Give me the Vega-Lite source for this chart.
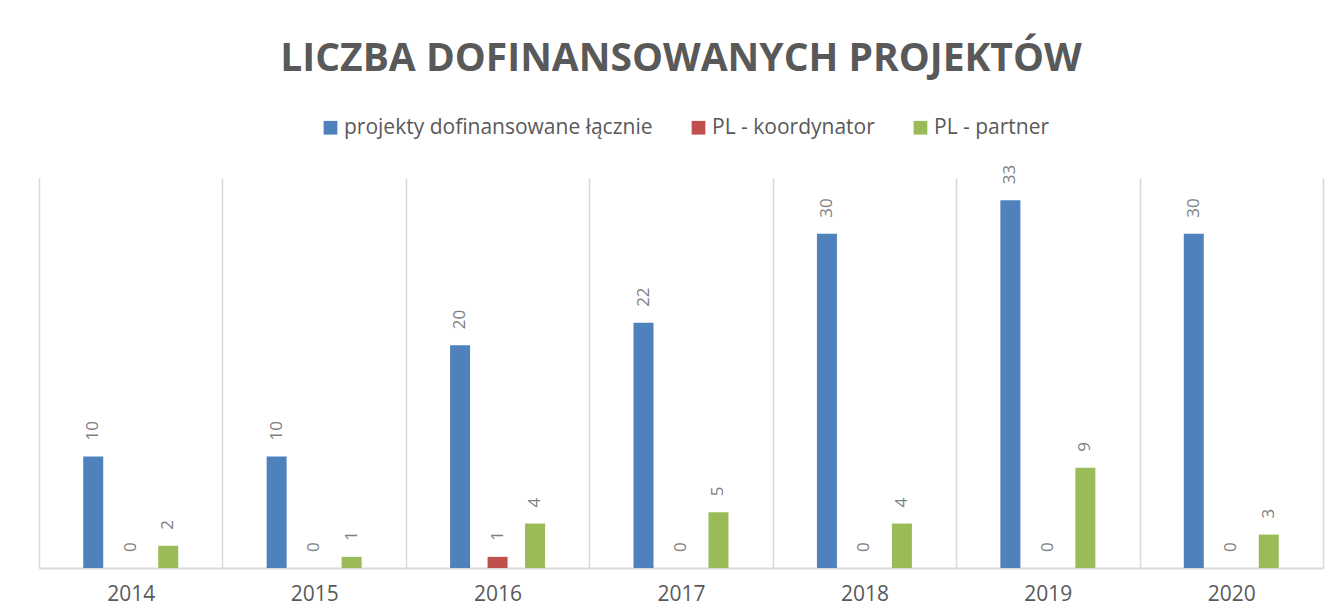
{
  "$schema": "https://vega.github.io/schema/vega-lite/v6.json",
  "autosize": {"type": "none"},
  "width": 1284,
  "height": 390,
  "padding": {"left": 39, "top": 178, "right": 18, "bottom": 47},
  "background": "white",
  "title": {
    "text": "LICZBA DOFINANSOWANYCH PROJEKTÓW",
    "font": "Open Sans",
    "fontSize": 39,
    "fontWeight": "bold",
    "color": "#595959",
    "anchor": "middle",
    "offset": 38
  },
  "data": {
    "values": [
      {"year": "2014", "series": "projekty dofinansowane łącznie", "value": 10},
      {"year": "2014", "series": "PL - koordynator", "value": 0},
      {"year": "2014", "series": "PL - partner", "value": 2},
      {"year": "2015", "series": "projekty dofinansowane łącznie", "value": 10},
      {"year": "2015", "series": "PL - koordynator", "value": 0},
      {"year": "2015", "series": "PL - partner", "value": 1},
      {"year": "2016", "series": "projekty dofinansowane łącznie", "value": 20},
      {"year": "2016", "series": "PL - koordynator", "value": 1},
      {"year": "2016", "series": "PL - partner", "value": 4},
      {"year": "2017", "series": "projekty dofinansowane łącznie", "value": 22},
      {"year": "2017", "series": "PL - koordynator", "value": 0},
      {"year": "2017", "series": "PL - partner", "value": 5},
      {"year": "2018", "series": "projekty dofinansowane łącznie", "value": 30},
      {"year": "2018", "series": "PL - koordynator", "value": 0},
      {"year": "2018", "series": "PL - partner", "value": 4},
      {"year": "2019", "series": "projekty dofinansowane łącznie", "value": 33},
      {"year": "2019", "series": "PL - koordynator", "value": 0},
      {"year": "2019", "series": "PL - partner", "value": 9},
      {"year": "2020", "series": "projekty dofinansowane łącznie", "value": 30},
      {"year": "2020", "series": "PL - koordynator", "value": 0},
      {"year": "2020", "series": "PL - partner", "value": 3}
    ]
  },
  "encoding": {
    "x": {
      "field": "year",
      "type": "nominal",
      "scale": {"paddingInner": 0, "paddingOuter": 0},
      "axis": {
        "title": null,
        "labelAngle": 0,
        "labelFont": "Open Sans",
        "labelFontSize": 21,
        "labelColor": "#595959",
        "labelPadding": 15,
        "ticks": false,
        "grid": true,
        "tickBand": "extent",
        "gridColor": "#d9d9d9",
        "gridWidth": 1.5,
        "domainColor": "#d9d9d9",
        "domainWidth": 2
      }
    },
    "xOffset": {
      "field": "series",
      "type": "nominal",
      "sort": ["projekty dofinansowane łącznie", "PL - koordynator", "PL - partner"],
      "scale": {"paddingInner": 0.107, "paddingOuter": 1}
    },
    "y": {
      "field": "value",
      "type": "quantitative",
      "scale": {"domain": [0, 35], "nice": false},
      "axis": null
    }
  },
  "layer": [
    {
      "mark": {"type": "bar", "width": 20},
      "encoding": {
        "color": {
          "field": "series",
          "type": "nominal",
          "sort": ["projekty dofinansowane łącznie", "PL - koordynator", "PL - partner"],
          "scale": {
            "domain": ["projekty dofinansowane łącznie", "PL - koordynator", "PL - partner"],
            "range": ["#4f81bd", "#c0504d", "#9bbb59"]
          },
          "legend": {
            "title": null,
            "orient": "none",
            "direction": "horizontal",
            "legendX": 281,
            "legendY": -61,
            "padding": 0,
            "symbolType": "square",
            "symbolSize": 188,
            "symbolStrokeWidth": 0,
            "labelFont": "Open Sans",
            "labelFontSize": 21,
            "labelColor": "#595959",
            "labelLimit": 0,
            "labelOffset": 3,
            "columnPadding": 35
          }
        }
      }
    },
    {
      "mark": {
        "type": "text",
        "angle": 270,
        "align": "left",
        "baseline": "middle",
        "dx": 16,
        "font": "Open Sans",
        "fontSize": 17,
        "fill": "#7f7f7f"
      },
      "encoding": {
        "text": {"field": "value", "type": "quantitative"}
      }
    }
  ],
  "config": {
    "view": {"stroke": null}
  }
}
